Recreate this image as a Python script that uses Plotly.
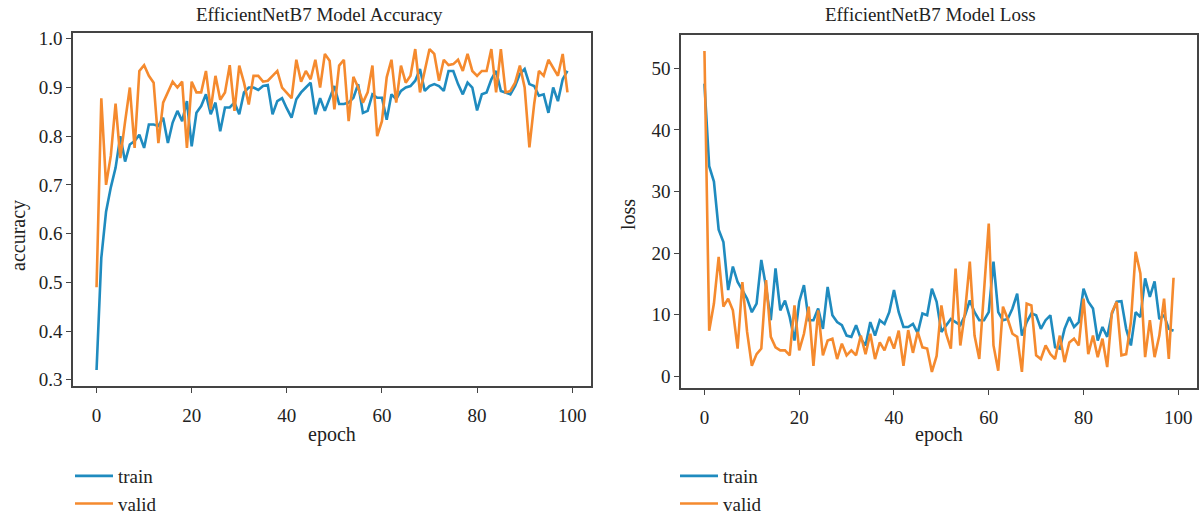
import plotly.graph_objects as go

epochs = list(range(100))

acc_train = [0.32, 0.55, 0.645, 0.695, 0.735, 0.80, 0.748, 0.783, 0.79, 0.803,
             0.776, 0.824, 0.824, 0.821, 0.838, 0.786, 0.828, 0.852, 0.831, 0.872,
             0.779, 0.848, 0.862, 0.886, 0.845, 0.869, 0.81, 0.859, 0.859, 0.869,
             0.845, 0.89, 0.90, 0.90, 0.895, 0.903, 0.905, 0.845, 0.872, 0.878,
             0.857, 0.838, 0.876, 0.89, 0.90, 0.91, 0.845, 0.878, 0.852, 0.876,
             0.903, 0.866, 0.866, 0.869, 0.879, 0.907, 0.848, 0.852, 0.886, 0.879,
             0.879, 0.834, 0.886, 0.876, 0.893, 0.90, 0.903, 0.914, 0.938, 0.893,
             0.903, 0.907, 0.903, 0.893, 0.934, 0.934, 0.907, 0.886, 0.91, 0.90,
             0.853, 0.886, 0.89, 0.917, 0.934, 0.893, 0.89, 0.886, 0.903, 0.928,
             0.938, 0.907, 0.903, 0.883, 0.886, 0.848, 0.90, 0.872, 0.917, 0.934]

acc_valid = [0.49, 0.878, 0.70, 0.76, 0.867, 0.755, 0.83, 0.90, 0.776, 0.934,
             0.946, 0.924, 0.91, 0.786, 0.869, 0.89, 0.912, 0.90, 0.912, 0.776,
             0.912, 0.89, 0.89, 0.934, 0.855, 0.924, 0.875, 0.89, 0.946, 0.852,
             0.945, 0.91, 0.865, 0.924, 0.924, 0.912, 0.914, 0.924, 0.934, 0.90,
             0.89, 0.878, 0.957, 0.912, 0.934, 0.917, 0.957, 0.90, 0.969, 0.955,
             0.855, 0.945, 0.957, 0.831, 0.922, 0.90, 0.869, 0.89, 0.945, 0.80,
             0.831, 0.921, 0.957, 0.869, 0.945, 0.91, 0.924, 0.979, 0.89, 0.934,
             0.979, 0.969, 0.914, 0.957, 0.946, 0.948, 0.957, 0.934, 0.969, 0.934,
             0.924, 0.934, 0.934, 0.979, 0.89, 0.979, 0.89, 0.893, 0.91, 0.945,
             0.90, 0.777, 0.866, 0.934, 0.924, 0.957, 0.941, 0.924, 0.969, 0.89]

loss_train = [47.5, 34.1, 31.6, 23.8, 21.8, 14.0, 17.8, 15.3, 14.0, 12.6,
              10.4, 11.8, 18.9, 14.5, 9.1, 17.5, 10.7, 12.3, 9.6, 5.8,
              12.1, 14.8, 9.1, 9.1, 11.0, 7.7, 14.5, 9.9, 8.8, 8.3,
              6.6, 6.4, 8.3, 6.1, 5.0, 8.8, 6.6, 9.1, 8.5, 10.4,
              14.0, 10.4, 8.0, 8.0, 8.5, 7.0, 10.2, 9.9, 14.2, 12.1,
              7.2, 8.3, 9.3, 8.8, 8.3, 9.9, 12.3, 10.4, 9.1, 9.1,
              10.4, 18.6, 10.4, 9.1, 9.3, 11.0, 13.4, 6.6, 8.8, 10.2,
              9.9, 7.7, 9.1, 9.9, 4.7, 4.5, 7.7, 9.6, 8.0, 8.8,
              14.2, 12.1, 11.0, 5.8, 8.0, 6.4, 10.2, 12.1, 12.2, 7.7,
              5.0, 10.4, 9.6, 15.9, 12.9, 15.4, 9.3, 9.9, 7.7, 7.4]

loss_valid = [52.8, 7.4, 11.8, 19.4, 11.3, 12.6, 10.7, 4.5, 15.3, 7.2,
              1.7, 3.6, 4.5, 15.6, 6.4, 4.7, 4.2, 4.2, 3.4, 11.5,
              4.2, 6.9, 11.3, 1.7, 10.7, 3.4, 5.8, 6.1, 2.8, 5.3,
              3.4, 4.2, 3.4, 6.6, 3.6, 6.9, 2.8, 5.5, 4.2, 6.4,
              4.5, 7.4, 1.7, 7.5, 3.8, 7.2, 4.7, 4.5, 0.7, 3.3,
              11.5, 6.9, 4.5, 17.5, 5.0, 10.5, 18.6, 6.6, 2.8, 14.0,
              24.8, 5.0, 0.9, 11.3, 9.3, 6.9, 6.4, 0.7, 11.8, 11.5,
              3.4, 2.8, 5.0, 3.6, 2.8, 6.6, 2.3, 5.5, 6.1, 5.0,
              12.6, 3.6, 6.6, 3.1, 6.1, 1.5, 10.4, 12.1, 3.4, 3.6,
              8.8, 20.2, 16.7, 3.1, 9.1, 3.1, 6.6, 12.6, 2.8, 16.0]

x_ticks = [0, 20, 40, 60, 80, 100]
acc_ticks = [0.3, 0.4, 0.5, 0.6, 0.7, 0.8, 0.9, 1.0]
loss_ticks = [0, 10, 20, 30, 40, 50]

BLUE = "#1f8bbf"
ORANGE = "#f58a2e"
FONT = "Liberation Serif"
TXT = "#222222"
W, H = 1202, 515


def pad_range(vals, frac=0.05):
    lo, hi = min(vals), max(vals)
    d = (hi - lo) * frac
    return [lo - d, hi + d]


fig = go.Figure()
fig.add_trace(go.Scatter(x=epochs, y=acc_train, mode="lines", name="train",
                         line=dict(color=BLUE, width=2.6), xaxis="x", yaxis="y",
                         legend="legend"))
fig.add_trace(go.Scatter(x=epochs, y=acc_valid, mode="lines", name="valid",
                         line=dict(color=ORANGE, width=2.6), xaxis="x", yaxis="y",
                         legend="legend"))
fig.add_trace(go.Scatter(x=epochs, y=loss_train, mode="lines", name="train",
                         line=dict(color=BLUE, width=2.6), xaxis="x2", yaxis="y2",
                         legend="legend2"))
fig.add_trace(go.Scatter(x=epochs, y=loss_valid, mode="lines", name="valid",
                         line=dict(color=ORANGE, width=2.6), xaxis="x2", yaxis="y2",
                         legend="legend2"))

axis_common = dict(showline=True, mirror=True, linecolor="#444444", linewidth=1.5,
                   ticks="outside", ticklen=5, tickwidth=1.2, tickcolor="#444444",
                   showgrid=False, zeroline=False,
                   tickfont=dict(family=FONT, size=19, color=TXT))

xr = pad_range(epochs)
fig.update_layout(
    width=W, height=H,
    margin=dict(l=0, r=0, t=0, b=0, autoexpand=False),
    paper_bgcolor="white", plot_bgcolor="white",
    font=dict(family=FONT, color=TXT),
    xaxis=dict(domain=[73 / W, 591 / W], range=xr, tickvals=x_ticks, anchor="y",
               ticklabelstandoff=6, **axis_common),
    yaxis=dict(domain=[1 - 386 / H, 1 - 33 / H], range=pad_range(acc_train + acc_valid),
               tickvals=acc_ticks, tickformat=".1f", anchor="x", **axis_common),
    xaxis2=dict(domain=[681 / W, 1197 / W], range=xr, tickvals=x_ticks, anchor="y2",
                ticklabelstandoff=6, **axis_common),
    yaxis2=dict(domain=[1 - 388 / H, 1 - 35 / H], range=pad_range(loss_train + loss_valid),
                tickvals=loss_ticks, anchor="x2", **axis_common),
    legend=dict(x=70 / W, y=-8 / H, xanchor="left", yanchor="bottom",
                bgcolor="rgba(0,0,0,0)", font=dict(family=FONT, size=19, color=TXT),
                tracegroupgap=0, itemwidth=38),
    legend2=dict(x=675 / W, y=-8 / H, xanchor="left", yanchor="bottom",
                 bgcolor="rgba(0,0,0,0)", font=dict(family=FONT, size=19, color=TXT),
                 tracegroupgap=0, itemwidth=38),
    annotations=[
        dict(text="EfficientNetB7 Model Accuracy", x=319 / W, y=1 - 15 / H,
             xref="paper", yref="paper", showarrow=False, xanchor="center", yanchor="middle",
             font=dict(family=FONT, size=19, color=TXT)),
        dict(text="EfficientNetB7 Model Loss", x=930 / W, y=1 - 15 / H,
             xref="paper", yref="paper", showarrow=False, xanchor="center", yanchor="middle",
             font=dict(family=FONT, size=19, color=TXT)),
        dict(text="epoch", x=332 / W, y=1 - 434 / H, xref="paper", yref="paper",
             showarrow=False, xanchor="center", yanchor="middle",
             font=dict(family=FONT, size=20, color=TXT)),
        dict(text="epoch", x=939 / W, y=1 - 434 / H, xref="paper", yref="paper",
             showarrow=False, xanchor="center", yanchor="middle",
             font=dict(family=FONT, size=20, color=TXT)),
        dict(text="accuracy", x=18 / W, y=1 - 236 / H, xref="paper", yref="paper",
             showarrow=False, textangle=-90, xanchor="center", yanchor="middle",
             font=dict(family=FONT, size=20, color=TXT)),
        dict(text="loss", x=628 / W, y=1 - 215 / H, xref="paper", yref="paper",
             showarrow=False, textangle=-90, xanchor="center", yanchor="middle",
             font=dict(family=FONT, size=20, color=TXT)),
    ],
)

fig.write_html("out.html")
